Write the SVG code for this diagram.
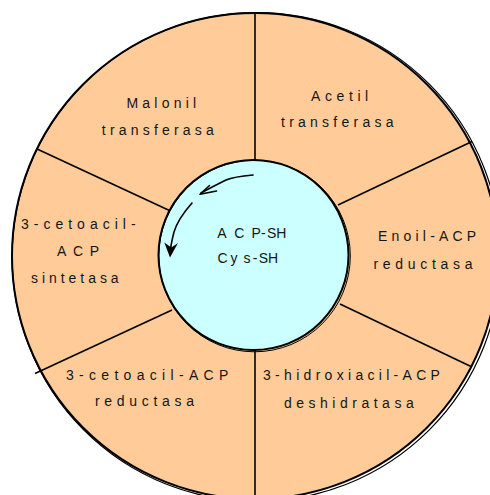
<svg xmlns="http://www.w3.org/2000/svg" width="490" height="495" viewBox="0 0 490 495">
  <style>
    .lbl { font-family: "Liberation Sans", Arial, sans-serif; font-size: 14px; fill: #151515; }
    .div { stroke: #000; stroke-width: 1.6; fill: none; }
    .arc { stroke: #000; fill: none; stroke-linecap: round; stroke-linejoin: round; }
  </style>

  <!-- outer ring of enzyme domains -->
  <g id="complex">
    <circle cx="255" cy="256" r="243" fill="#FFCC99" stroke="#000" stroke-width="2"/>
    <circle cx="256.5" cy="257" r="244.4" fill="none" stroke="#000" stroke-width="1.2"/>
  </g>

  <!-- separators between domains -->
  <g id="dividers">
    <line class="div" x1="255" y1="13" x2="255" y2="162"/>
    <line class="div" x1="255" y1="348" x2="255" y2="499"/>
    <line class="div" x1="36" y1="148.5" x2="170.5" y2="211"/>
    <line class="div" x1="472" y1="141.5" x2="338" y2="205"/>
    <line class="div" x1="35" y1="373.5" x2="172" y2="310"/>
    <line class="div" x1="472" y1="367" x2="340" y2="304"/>
  </g>

  <!-- central carrier protein -->
  <g id="acp">
    <circle cx="253.5" cy="255" r="95" fill="#CCFFFF" stroke="#000" stroke-width="2"/>
    <circle cx="254.5" cy="256" r="95.8" fill="none" stroke="#000" stroke-width="1"/>
    <text class="lbl" x="217.3 234.3 251.6 261.1 267.1 276.2" y="238.3">ACP-SH</text>
    <text class="lbl" x="217.6 230.5 243.6 252.7 258.7 267.9" y="263.3">Cys-SH</text>
  </g>

  <!-- rotation arrows -->
  <g id="rotation">
    <path class="arc" stroke-width="1.6" d="M253,175 C242,176 233,177 226,180 C218,184 210,188 201,193"/>
    <path class="arc" stroke-width="1.6" d="M216.5,191 L200,194.3 L209.5,185.5"/>
    <path class="arc" stroke-width="1.6" d="M192,203 C184,212 177,222 174,232 C172,240 171,245 170.6,249"/>
    <path d="M170,257.5 L164.3,242.5 L171.3,247.5 L178,243 Z" fill="#000"/>
  </g>

  <g id="malonil-transferasa">
    <text class="lbl" x="126.5" y="107.5" letter-spacing="4.2">Malonil</text>
    <text class="lbl" x="101.8" y="135" letter-spacing="4.2">transferasa</text>
  </g>

  <g id="acetil-transferasa">
    <text class="lbl" x="311" y="100.5" letter-spacing="4.6">Acetil</text>
    <text class="lbl" x="281" y="127" letter-spacing="4.25">transferasa</text>
  </g>

  <g id="cetoacil-sintetasa">
    <text class="lbl" x="21" y="229" letter-spacing="5">3-cetoacil-</text>
    <text class="lbl" x="57" y="255.5" letter-spacing="6.6">ACP</text>
    <text class="lbl" x="31" y="283" letter-spacing="3.95">sintetasa</text>
  </g>

  <g id="enoil-reductasa">
    <text class="lbl" x="378" y="240.5" letter-spacing="4.2">Enoil-ACP</text>
    <text class="lbl" x="373.5" y="269" letter-spacing="4.7">reductasa</text>
  </g>

  <g id="cetoacil-reductasa">
    <text class="lbl" x="66" y="380" letter-spacing="5.3">3-cetoacil-ACP</text>
    <text class="lbl" x="95" y="406" letter-spacing="4.7">reductasa</text>
  </g>

  <g id="hidroxiacil-deshidratasa">
    <text class="lbl" x="263" y="380" letter-spacing="4.3">3-hidroxiacil-ACP</text>
    <text class="lbl" x="284" y="407.5" letter-spacing="4.5">deshidratasa</text>
  </g>
</svg>
